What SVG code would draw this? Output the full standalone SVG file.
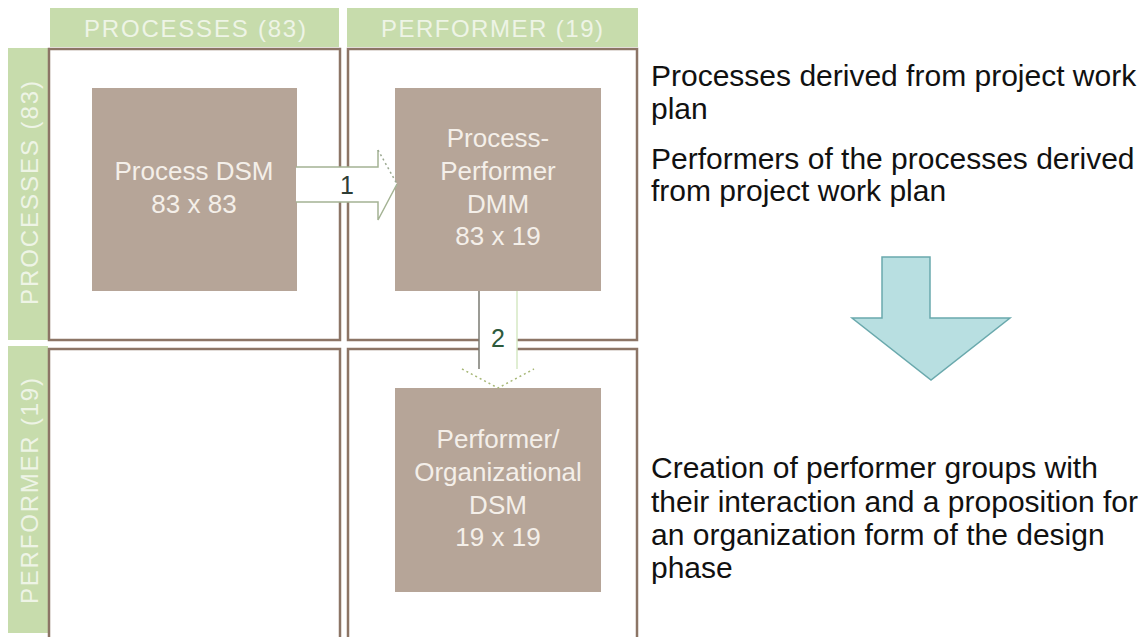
<svg xmlns="http://www.w3.org/2000/svg" width="1147" height="637" viewBox="0 0 1147 637">
<style>
.band{fill:#c7dcac}
.bandtxt{font-family:"Liberation Sans",Arial,sans-serif;font-size:24px;fill:#eef4e6;text-anchor:middle}
.cell{fill:#ffffff;stroke:#8c7566;stroke-width:2.5}
.box{fill:#b6a598}
.boxtxt{font-family:"Liberation Sans",Arial,sans-serif;font-size:26px;fill:#f4efe9;text-anchor:middle}
.note{font-family:"Liberation Sans",Arial,sans-serif;font-size:30px;fill:#111111}
.num{font-family:"Liberation Sans",Arial,sans-serif;font-size:25px;text-anchor:middle}
</style>
<rect width="1147" height="637" fill="#ffffff"/>
<g id="header-processes">
<rect class="band" x="50" y="8" width="289" height="39"/>
<text class="bandtxt" x="195" y="37" textLength="222" lengthAdjust="spacing">PROCESSES (83)</text>
</g>
<g id="header-performer">
<rect class="band" x="347" y="8" width="291" height="39"/>
<text class="bandtxt" x="492" y="37" textLength="222" lengthAdjust="spacing">PERFORMER (19)</text>
</g>
<g id="row-processes">
<rect class="band" x="8" y="48" width="40" height="292"/>
<text class="bandtxt" transform="translate(38,193) rotate(-90)" textLength="224" lengthAdjust="spacing">PROCESSES (83)</text>
</g>
<g id="row-performer">
<rect class="band" x="8" y="346" width="40" height="287"/>
<text class="bandtxt" transform="translate(38,491) rotate(-90)" textLength="226" lengthAdjust="spacing">PERFORMER (19)</text>
</g>
<g id="cells">
<rect class="cell" x="49" y="49" width="291" height="291"/>
<rect class="cell" x="348" y="49" width="289" height="291"/>
<rect class="cell" x="49" y="349" width="291" height="300"/>
<rect class="cell" x="348" y="349" width="289" height="300"/>
</g>
<g id="process-dsm">
<rect class="box" x="92" y="88" width="205" height="203"/>
<text class="boxtxt" x="194" y="180">Process DSM</text>
<text class="boxtxt" x="194" y="213">83 x 83</text>
</g>
<g id="process-performer-dmm">
<rect class="box" x="395" y="88" width="206" height="203"/>
<text class="boxtxt" x="498" y="147">Process-</text>
<text class="boxtxt" x="498" y="180">Performer</text>
<text class="boxtxt" x="498" y="213">DMM</text>
<text class="boxtxt" x="498" y="245">83 x 19</text>
</g>
<g id="performer-org-dsm">
<rect class="box" x="395" y="388" width="206" height="204"/>
<text class="boxtxt" x="498" y="448">Performer/</text>
<text class="boxtxt" x="498" y="481">Organizational</text>
<text class="boxtxt" x="498" y="514">DSM</text>
<text class="boxtxt" x="498" y="546">19 x 19</text>
</g>
<g id="connectors">
<g id="arrow-1">
<polygon points="296,167 378,167 378,150 397,184 378,220 378,202 296,202" fill="#ffffff" stroke="none"/>
<polyline points="296,167 378,167 378,150" fill="none" stroke="#a4b394" stroke-width="1.5"/>
<line x1="378" y1="150" x2="397" y2="184" stroke="#9aa890" stroke-width="1.5" stroke-dasharray="2,3"/>
<polyline points="397,184 378,220 378,202 296,202" fill="none" stroke="#a4b394" stroke-width="1.5"/>
<text class="num" x="347" y="194" fill="#2e3d35">1</text>
</g>
<g id="arrow-2">
<polygon points="479,291 517,291 517,369 534,369 498,388 462,369 479,369" fill="#ffffff" stroke="none"/>
<line x1="479" y1="291" x2="479" y2="369" stroke="#7a7a72" stroke-width="1.5"/>
<line x1="517" y1="291" x2="517" y2="369" stroke="#d6e8c4" stroke-width="1.5"/>
<polyline points="462,369 498,388 534,369" fill="none" stroke="#a8b878" stroke-width="1.5" stroke-dasharray="2,3"/>
<text class="num" x="498" y="347" fill="#2d5a3c">2</text>
</g>
</g>
<g id="notes">
<text class="note" x="651" y="86">Processes derived from project work</text>
<text class="note" x="651" y="119">plan</text>
<text class="note" x="651" y="169">Performers of the processes derived</text>
<text class="note" x="651" y="201">from project work plan</text>
<text class="note" x="651" y="478">Creation of performer groups with</text>
<text class="note" x="651" y="512">their interaction and a proposition for</text>
<text class="note" x="651" y="545">an organization form of the design</text>
<text class="note" x="651" y="578">phase</text>
</g>
<g id="big-arrow">
<polygon points="882,257 930,257 930,318 1010,318 931,380 852,318 882,318" fill="#b8dfe1" stroke="#6aa9ad" stroke-width="1.5"/>
</g>
</svg>
